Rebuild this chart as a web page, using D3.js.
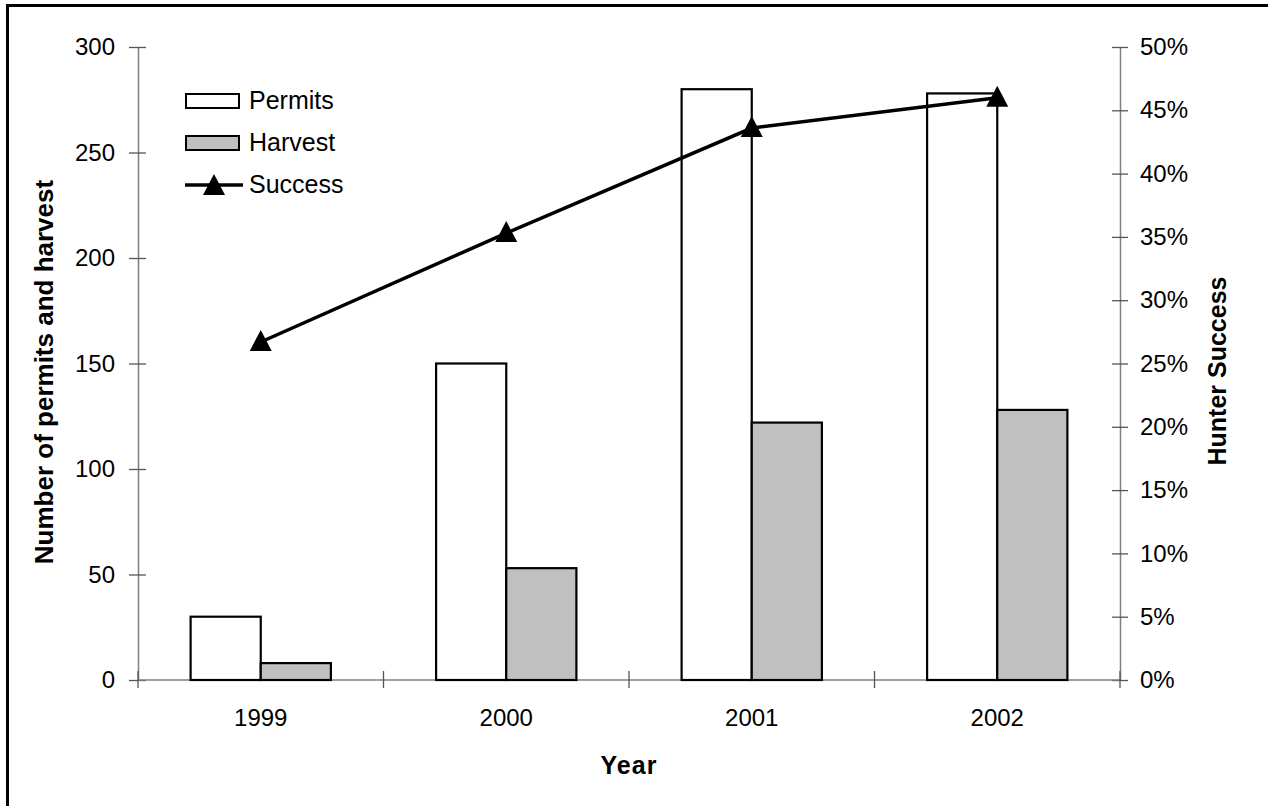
<!DOCTYPE html>
<html>
<head>
<meta charset="utf-8">
<script src="https://cdn.jsdelivr.net/npm/d3@7"></script>
<style>
  html, body { margin: 0; padding: 0; background: #fff; }
  svg { display: block; }
  text { font-family: "Liberation Sans", Arial, sans-serif; fill: #000; }
</style>
</head>
<body>
<script>
// Hunting permits, harvest and hunter success by year
const years = ["1999", "2000", "2001", "2002"];
const permits = [30, 150, 280, 278];
const harvest = [8, 53, 122, 128];
const success = [26.7, 35.3, 43.6, 46.0]; // percent
const leftTicks = [0, 50, 100, 150, 200, 250, 300];
const rightTicks = [0, 5, 10, 15, 20, 25, 30, 35, 40, 45, 50];

const W = 1268, H = 806;
const plot = { left: 138, right: 1120, top: 47, bottom: 680 };
const fs = 24;

const svg = d3.select("body").append("svg").attr("width", W).attr("height", H);

// outer frame
svg.append("rect")
  .attr("x", 7.5).attr("y", 5.5)
  .attr("width", W + 20).attr("height", H + 20)
  .attr("fill", "none").attr("stroke", "#000").attr("stroke-width", 3);

const x = d3.scaleBand().domain(years).range([plot.left, plot.right]).paddingInner(0).paddingOuter(0);
const bw = x.bandwidth() / 3.5; // two bars plus a 150% gap
const yL = d3.scaleLinear().domain([0, 300]).range([plot.bottom, plot.top]);
const yR = d3.scaleLinear().domain([0, 50]).range([plot.bottom, plot.top]);

const axisColor = "#808080";
const tickColor = "#555";

// left axis
const gL = svg.append("g").attr("transform", `translate(${plot.left},0)`)
  .call(d3.axisLeft(yL).tickValues(leftTicks).tickSizeInner(9).tickSizeOuter(0));
gL.select(".domain").attr("stroke", axisColor).attr("stroke-width", 1.5);
gL.selectAll(".tick line").attr("x2", 8).attr("x1", -9).attr("stroke", tickColor).attr("stroke-width", 1.3);
gL.selectAll(".tick text").attr("font-size", fs).attr("font-family", "Liberation Sans, Arial, sans-serif").attr("fill", "#000").attr("x", -23);

// right axis
const gR = svg.append("g").attr("transform", `translate(${plot.right},0)`)
  .call(d3.axisRight(yR).tickValues(rightTicks).tickFormat(d => d + "%").tickSizeInner(8).tickSizeOuter(0));
gR.select(".domain").attr("stroke", axisColor).attr("stroke-width", 1.5);
gR.selectAll(".tick line").attr("x1", -8).attr("x2", 8).attr("stroke", tickColor).attr("stroke-width", 1.3);
gR.selectAll(".tick text").attr("font-size", fs).attr("font-family", "Liberation Sans, Arial, sans-serif").attr("fill", "#000").attr("x", 20);

// bottom axis with ticks between categories
const gB = svg.append("g").attr("transform", `translate(0,${plot.bottom})`);
gB.append("line").attr("x1", plot.left).attr("x2", plot.right)
  .attr("stroke", axisColor).attr("stroke-width", 1.5);
const bounds = years.map(d => x(d)).concat([plot.right]);
gB.selectAll("line.sep").data(bounds).join("line").attr("class", "sep")
  .attr("x1", d => d).attr("x2", d => d).attr("y1", -9).attr("y2", 8)
  .attr("stroke", tickColor).attr("stroke-width", 1.3);
gB.selectAll("text.cat").data(years).join("text").attr("class", "cat")
  .attr("x", d => x(d) + x.bandwidth() / 2).attr("y", 46)
  .attr("text-anchor", "middle").attr("font-size", fs).text(d => d);

// bars
const gap = x.bandwidth() - 2 * bw;
svg.append("g").selectAll("rect").data(years).join("rect")
  .attr("x", d => x(d) + gap / 2).attr("y", (d, i) => yL(permits[i]))
  .attr("width", bw).attr("height", (d, i) => yL(0) - yL(permits[i]))
  .attr("fill", "#fff").attr("stroke", "#000").attr("stroke-width", 2.2);
svg.append("g").selectAll("rect").data(years).join("rect")
  .attr("x", d => x(d) + gap / 2 + bw).attr("y", (d, i) => yL(harvest[i]))
  .attr("width", bw).attr("height", (d, i) => yL(0) - yL(harvest[i]))
  .attr("fill", "#c0c0c0").attr("stroke", "#000").attr("stroke-width", 2.2);

// success line with triangle markers
const cx = d => x(d) + x.bandwidth() / 2;
const line = d3.line().x((d, i) => cx(years[i])).y(d => yR(d));
svg.append("path").datum(success).attr("d", line)
  .attr("fill", "none").attr("stroke", "#000").attr("stroke-width", 3.5);
const tri = (px, py) => `M${px},${py - 12}L${px + 11},${py + 9}L${px - 11},${py + 9}Z`;
svg.append("g").selectAll("path").data(success).join("path")
  .attr("d", (d, i) => tri(cx(years[i]), yR(d))).attr("fill", "#000");

// legend
const lg = svg.append("g");
lg.append("rect").attr("x", 186).attr("y", 94).attr("width", 53).attr("height", 14)
  .attr("fill", "#fff").attr("stroke", "#000").attr("stroke-width", 2);
lg.append("rect").attr("x", 186).attr("y", 136).attr("width", 53).attr("height", 14)
  .attr("fill", "#c0c0c0").attr("stroke", "#000").attr("stroke-width", 2);
lg.append("line").attr("x1", 185).attr("x2", 243).attr("y1", 185).attr("y2", 185)
  .attr("stroke", "#000").attr("stroke-width", 3.5);
lg.append("path").attr("d", tri(214, 186)).attr("fill", "#000");
[["Permits", 109], ["Harvest", 151], ["Success", 193]].forEach(([t, yy]) => {
  lg.append("text").attr("x", 249).attr("y", yy).attr("font-size", fs + 1).text(t);
});

// axis titles
svg.append("text").attr("transform", "translate(53,372) rotate(-90)")
  .attr("text-anchor", "middle").attr("font-size", 26).attr("font-weight", "bold")
  .text("Number of permits and harvest");
svg.append("text").attr("transform", "translate(1226,371) rotate(-90)")
  .attr("text-anchor", "middle").attr("font-size", 25).attr("font-weight", "bold")
  .text("Hunter Success");
svg.append("text").attr("x", (plot.left + plot.right) / 2).attr("y", 774)
  .attr("text-anchor", "middle").attr("font-size", 25).attr("font-weight", "bold")
  .attr("letter-spacing", 1).text("Year");
</script>
</body>
</html>
